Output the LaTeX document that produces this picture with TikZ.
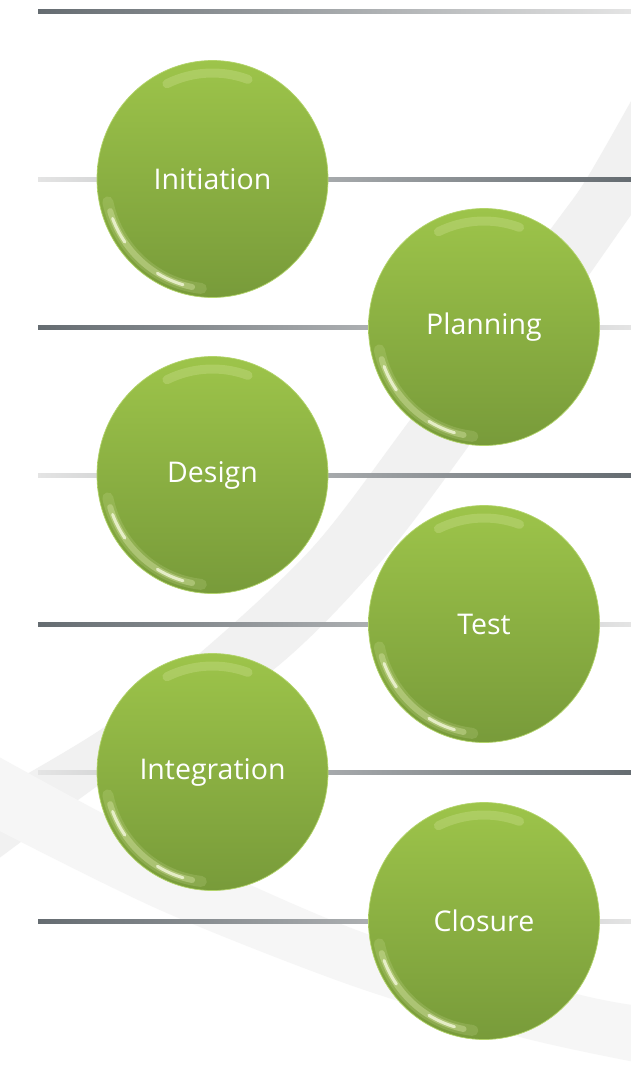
\documentclass[tikz,border=0pt]{standalone}
\usepackage{fontspec}
\setmainfont{Open Sans}
\usetikzlibrary{shapes.geometric,calc}
\definecolor{balltop}{HTML}{9DC44A}
\definecolor{ballbot}{HTML}{789B3A}
\definecolor{ballrim}{HTML}{B2D46A}
\definecolor{bardark}{HTML}{656C71}
\definecolor{barlight}{HTML}{E4E4E4}
\definecolor{swoosh}{HTML}{F1F1F1}
\definecolor{swooshlight}{HTML}{F6F6F6}
\definecolor{glow}{HTML}{F4FAC8}
\tikzset{
  ball/.style={ellipse, minimum width=231pt, minimum height=237pt, inner sep=0pt,
    top color=balltop, bottom color=ballbot, draw=ballrim, line width=0.7pt,
    text=white, font=\fontsize{28.5}{32}\selectfont},
  barA/.style={left color=bardark, right color=barlight},
  barB/.style={left color=barlight, right color=bardark},
  swooshA/.style={fill=swoosh},
  swooshB/.style={fill=swooshlight},
  glowwide/.style={glow, line width=11pt, opacity=.14, line cap=round},
  glowmid/.style={glow, line width=6pt, opacity=.30, line cap=round},
  glowcore/.style={glow!50!white, line width=3pt, opacity=.75, line cap=round},
  tophl/.style={glow, line width=9pt, opacity=.20, line cap=round},
}
\begin{document}
\begin{tikzpicture}[x=1pt,y=1pt]
\useasboundingbox (0,0) rectangle (631,-1090);
\clip (0,0) rectangle (631,-1090);
\fill[white] (0,0) rectangle (631,-1090);
% background swooshes
\fill[swooshA] plot[smooth] coordinates {(640,-85) (587,-178) (550,-230) (410,-420) (313,-547) (200,-653) (100,-730) (-10,-795)}
  -- plot[smooth] coordinates {(-10,-865) (120,-770) (273,-670) (378,-565) (473,-440) (631,-215) (660,-175)} -- cycle;
\fill[swooshB] plot[smooth] coordinates {(-10,-752) (100,-812) (200,-862) (370,-935) (573,-993) (640,-1006)}
  -- plot[smooth] coordinates {(640,-1063) (520,-1037) (350,-985) (160,-910) (-10,-826)} -- cycle;
% horizontal bars
\foreach \yy in {11,327,624,921} \fill[barA] (38,-\yy+2) rectangle (631,-\yy-2);
\foreach \yy in {179,475,772} \fill[barB] (38,-\yy+2) rectangle (631,-\yy-2);
% balls
\node[ball] (ini) at (212.5,-179) {Initiation};
\node[ball] (pla) at (484,-327) {Planning};
\node[ball] (des) at (212.5,-475) {Design};
\node[ball] (tes) at (484,-624) {Test};
\node[ball] (int) at (212.5,-772) {Integration};
\node[ball] (clo) at (484,-921) {Closure};
% highlights
\foreach \n in {ini,pla,des,tes,int,clo} {
  \draw[glowwide] ($(\n.center)+(192:107pt and 110pt)$) arc[start angle=192, end angle=264, x radius=107pt, y radius=110pt];
  \draw[glowmid] ($(\n.center)+(197:107pt and 110pt)$) arc[start angle=197, end angle=259, x radius=107pt, y radius=110pt];
  \draw[glowcore] ($(\n.center)+(201:107pt and 110pt)$) arc[start angle=201, end angle=215, x radius=107pt, y radius=110pt];
  \draw[glowcore] ($(\n.center)+(239:107pt and 110pt)$) arc[start angle=239, end angle=254, x radius=107pt, y radius=110pt];
  \draw[tophl] ($(\n.center)+(70:104pt and 106pt)$) arc[start angle=70, end angle=116, x radius=104pt, y radius=106pt];
}
\end{tikzpicture}
\end{document}
